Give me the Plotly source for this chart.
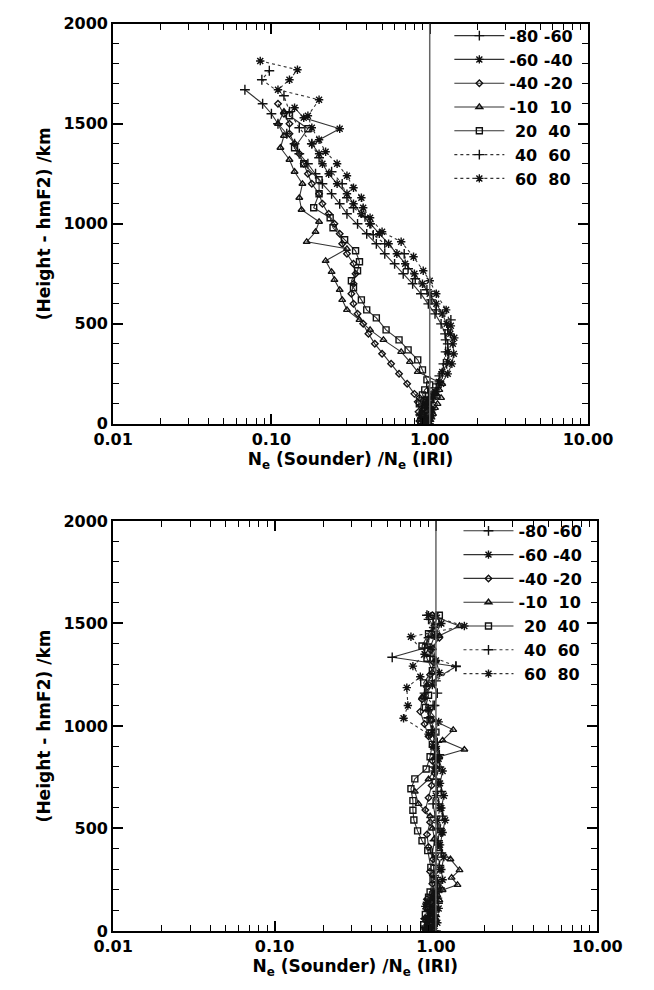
import plotly.graph_objects as go

# ---------------- data ----------------
series_names = ["-80 -60", "-60 -40", "-40 -20", "-10\u00a0\u00a010", "\u00a020\u00a0\u00a040", "\u00a040\u00a0\u00a060", "\u00a060\u00a0\u00a080"]

# Top panel
top_h_m80 = [0, 15, 30, 45, 60, 75, 90, 110, 130, 150, 200, 250, 300, 350, 400, 450, 500, 550, 600, 650, 700, 750, 800, 850, 900, 950, 1000, 1050, 1100, 1150, 1200, 1250, 1300, 1350, 1400, 1450, 1500, 1550, 1600, 1670]
top_v_m80 = [0.95, 0.9, 0.97, 0.88, 0.93, 1.0, 0.9, 0.98, 0.94, 1.05, 1.12, 1.2, 1.28, 1.32, 1.3, 1.25, 1.18, 1.08, 0.98, 0.88, 0.78, 0.68, 0.6, 0.52, 0.46, 0.4, 0.35, 0.3, 0.27, 0.24, 0.21, 0.19, 0.17, 0.15, 0.14, 0.125, 0.11, 0.1, 0.088, 0.068]

top_h_m60 = [0, 12, 25, 40, 55, 70, 85, 100, 120, 140, 160, 200, 250, 300, 350, 400, 450, 500, 550, 600, 650, 700, 750, 800, 850, 900, 950, 1000, 1050, 1100, 1150, 1200, 1250, 1300, 1350, 1400, 1475, 1530, 1580]
top_v_m60 = [0.98, 0.92, 1.02, 0.87, 0.95, 1.04, 0.9, 1.0, 0.93, 1.04, 1.1, 1.18, 1.3, 1.38, 1.42, 1.4, 1.35, 1.28, 1.2, 1.1, 1.0, 0.9, 0.8, 0.7, 0.62, 0.55, 0.48, 0.42, 0.37, 0.33, 0.3, 0.26, 0.23, 0.21, 0.2, 0.18, 0.27, 0.16, 0.14]

top_h_m40 = [0, 15, 30, 45, 60, 75, 90, 110, 130, 150, 200, 250, 300, 350, 400, 450, 500, 550, 600, 650, 700, 750, 800, 850, 900, 950, 1000, 1050, 1100, 1150, 1200, 1250, 1300, 1350, 1400, 1450, 1500, 1550, 1600]
top_v_m40 = [0.93, 0.86, 0.95, 0.9, 0.85, 0.92, 0.88, 0.84, 0.86, 0.8, 0.72, 0.64, 0.57, 0.5, 0.45, 0.41, 0.38, 0.35, 0.33, 0.32, 0.33, 0.34, 0.33, 0.3, 0.28, 0.27, 0.25, 0.23, 0.21, 0.2, 0.18, 0.17, 0.16, 0.15, 0.14, 0.13, 0.13, 0.12, 0.11]

top_h_m10 = [0, 10, 20, 35, 50, 65, 80, 100, 115, 130, 150, 170, 200, 260, 310, 360, 420, 470, 520, 570, 620, 670, 720, 760, 815, 875, 910, 960, 1010, 1070, 1130, 1200, 1260, 1320, 1380, 1440, 1500, 1560]
top_v_m10 = [0.96, 0.88, 1.0, 0.92, 1.05, 0.95, 1.08, 1.12, 1.02, 1.18, 1.1, 1.15, 1.2, 0.84, 0.75, 0.66, 0.51, 0.42, 0.36, 0.3, 0.28, 0.27, 0.25, 0.24, 0.22, 0.3, 0.167, 0.19, 0.2, 0.155, 0.15, 0.157, 0.14, 0.13, 0.114, 0.12, 0.11, 0.12]

top_h_p20 = [0, 15, 30, 45, 60, 80, 100, 120, 145, 170, 195, 220, 270, 320, 370, 420, 470, 530, 570, 620, 680, 715, 765, 810, 865, 920, 980, 1030, 1080, 1150, 1220, 1300, 1380, 1475, 1540]
top_v_p20 = [0.94, 0.88, 0.97, 0.9, 1.0, 0.93, 0.86, 0.95, 0.9, 0.93, 1.0, 0.96, 0.9, 0.84, 0.73, 0.64, 0.53, 0.46, 0.4, 0.37, 0.33, 0.32, 0.35, 0.36, 0.34, 0.29, 0.245, 0.235, 0.185, 0.2, 0.2, 0.16, 0.14, 0.17, 0.13]

top_h_p40 = [0, 15, 30, 45, 60, 80, 100, 130, 155, 180, 240, 300, 360, 420, 470, 520, 570, 620, 670, 725, 775, 850, 900, 945, 1000, 1035, 1080, 1130, 1200, 1260, 1330, 1400, 1480, 1560, 1640, 1720, 1765]
top_v_p40 = [0.97, 0.91, 1.0, 0.87, 0.93, 1.02, 0.95, 1.05, 0.98, 1.1, 1.15, 1.22, 1.26, 1.26, 1.3, 1.36, 1.1, 1.02, 0.96, 0.81, 0.73, 0.69, 0.52, 0.44, 0.42, 0.39, 0.33, 0.3, 0.28, 0.24, 0.2, 0.18, 0.15, 0.13, 0.12, 0.087, 0.097]

top_h_p60 = [0, 12, 25, 40, 55, 70, 90, 110, 135, 160, 210, 260, 310, 360, 430, 490, 570, 650, 715, 765, 835, 910, 960, 1030, 1080, 1130, 1180, 1240, 1300, 1360, 1420, 1480, 1540, 1620, 1670, 1720, 1770, 1814]
top_v_p60 = [1.0, 0.92, 0.96, 1.03, 0.89, 1.02, 0.94, 0.97, 1.06, 1.08, 1.14, 1.2, 1.3, 1.3, 1.43, 1.36, 1.27, 1.1, 1.0, 0.91, 0.79, 0.66, 0.5, 0.42, 0.38, 0.37, 0.33, 0.3, 0.26, 0.22, 0.2, 0.18, 0.17, 0.2, 0.11, 0.13, 0.146, 0.085]

# Bottom panel
bot_h_m80 = [0, 15, 30, 45, 60, 80, 100, 120, 145, 170, 220, 270, 320, 380, 440, 500, 560, 620, 680, 740, 800, 860, 920, 980, 1040, 1100, 1160, 1220, 1290, 1335, 1380, 1430, 1480, 1540]
bot_v_m80 = [0.95, 0.88, 0.92, 0.97, 0.86, 0.94, 0.9, 0.98, 0.92, 0.98, 1.02, 0.97, 1.0, 0.95, 0.98, 1.03, 0.99, 0.96, 1.02, 1.0, 0.97, 1.05, 1.0, 0.94, 0.9, 0.98, 1.02, 0.95, 1.33, 0.536, 0.85, 0.9, 0.97, 0.88]

bot_h_m60 = [0, 12, 25, 40, 55, 70, 90, 110, 130, 150, 200, 250, 300, 360, 420, 480, 540, 600, 660, 720, 780, 840, 900, 960, 1020, 1080, 1140, 1200, 1260, 1320, 1380, 1440, 1500, 1540]
bot_v_m60 = [0.98, 0.9, 0.93, 1.02, 0.88, 1.0, 0.95, 1.04, 0.92, 0.97, 1.05, 1.1, 1.08, 1.12, 1.06, 1.1, 1.14, 1.08, 1.12, 1.06, 1.1, 1.04, 1.0, 0.97, 1.04, 0.9, 0.85, 0.95, 1.05, 1.0, 0.92, 0.98, 1.08, 1.0]

bot_h_m40 = [0, 15, 30, 45, 60, 80, 100, 130, 155, 180, 230, 290, 350, 410, 470, 530, 590, 650, 710, 770, 830, 890, 950, 1010, 1070, 1130, 1190, 1250, 1310, 1370, 1430, 1490, 1540]
bot_v_m40 = [0.92, 0.87, 0.96, 0.9, 0.85, 0.93, 0.9, 0.94, 0.88, 1.0, 0.95, 0.92, 0.96, 0.9, 0.88, 0.92, 0.86, 0.9, 0.94, 0.98, 0.95, 1.0, 0.9, 0.85, 0.8, 0.82, 0.88, 0.92, 0.97, 0.93, 1.05, 0.98, 0.95]

bot_h_m10 = [0, 12, 25, 40, 55, 75, 100, 125, 150, 175, 200, 225, 260, 297, 350, 400, 450, 500, 560, 620, 680, 740, 800, 850, 885, 930, 981, 1030, 1080, 1140, 1200, 1260, 1320, 1380, 1440, 1488, 1530]
bot_v_m10 = [0.9, 0.86, 0.95, 0.89, 1.0, 0.93, 1.0, 0.96, 1.05, 1.02, 1.1, 1.36, 1.25, 1.4, 1.23, 1.05, 0.98, 0.95, 0.92, 0.78, 0.74, 0.9, 1.0, 1.05, 1.5, 1.1, 1.28, 0.95, 0.9, 0.82, 0.88, 0.95, 1.0, 0.96, 1.05, 1.4, 1.0]

bot_h_p20 = [0, 15, 30, 45, 60, 80, 100, 120, 140, 165, 190, 250, 310, 392, 440, 488, 541, 589, 636, 694, 742, 790, 850, 910, 970, 1030, 1090, 1150, 1210, 1270, 1330, 1390, 1450, 1510, 1540]
bot_v_p20 = [0.95, 0.89, 0.84, 0.93, 0.9, 0.86, 0.93, 0.88, 0.95, 0.9, 0.92, 0.96, 0.93, 0.89, 0.82, 0.77, 0.73, 0.72, 0.72, 0.7, 0.74, 0.87, 0.92, 0.95, 1.0, 0.92, 0.86, 0.9, 0.84, 0.95, 0.88, 0.82, 0.9, 1.0, 1.05]

bot_h_p40 = [0, 12, 25, 40, 55, 75, 95, 115, 135, 160, 210, 260, 320, 380, 440, 500, 560, 620, 680, 740, 800, 860, 920, 980, 1040, 1100, 1160, 1220, 1292, 1340, 1400, 1460, 1520]
bot_v_p40 = [1.0, 0.93, 0.87, 0.95, 0.9, 0.98, 0.92, 0.98, 1.03, 1.02, 1.06, 1.0, 1.05, 1.08, 1.03, 1.06, 1.1, 1.04, 1.08, 1.0, 1.05, 0.98, 1.02, 0.95, 0.9, 0.96, 0.85, 1.0, 1.33, 0.92, 0.88, 0.95, 0.9]

bot_h_p60 = [0, 10, 20, 30, 45, 60, 80, 100, 120, 140, 165, 190, 240, 300, 360, 420, 480, 540, 600, 660, 720, 780, 840, 900, 960, 1038, 1100, 1187, 1240, 1292, 1350, 1435, 1488, 1540]
bot_v_p60 = [0.93, 0.85, 0.91, 0.97, 0.88, 0.9, 0.96, 0.95, 0.86, 0.88, 0.94, 0.96, 1.02, 1.06, 1.0, 1.04, 1.08, 1.02, 1.06, 1.0, 1.04, 0.98, 1.02, 0.96, 0.9, 0.63, 0.67, 0.66, 0.8, 0.72, 0.85, 0.70, 1.5, 0.9]

x_tickvals = [0.01, 0.1, 1, 10]
x_ticktext = ["0.01", "0.10", "1.00", "10.00"]
y_tickvals = [0, 500, 1000, 1500, 2000]

top_data = [(top_v_m80, top_h_m80), (top_v_m60, top_h_m60), (top_v_m40, top_h_m40), (top_v_m10, top_h_m10),
            (top_v_p20, top_h_p20), (top_v_p40, top_h_p40), (top_v_p60, top_h_p60)]
bot_data = [(bot_v_m80, bot_h_m80), (bot_v_m60, bot_h_m60), (bot_v_m40, bot_h_m40), (bot_v_m10, bot_h_m10),
            (bot_v_p20, bot_h_p20), (bot_v_p40, bot_h_p40), (bot_v_p60, bot_h_p60)]

# ---------------- styles ----------------
symbols = ["cross-thin-open", "asterisk-open", "diamond-open", "triangle-up-open", "square-open", "cross-thin-open", "asterisk-open"]
sizes = [7, 7, 5, 6, 6, 7, 7]
dashes = ["solid", "solid", "solid", "solid", "solid", "dot", "dot"]
FONT = "DejaVu Sans, Verdana, sans-serif"

fig = go.Figure()
for panel, (data, xa, ya, lg) in enumerate([(top_data, "x", "y", "legend"), (bot_data, "x2", "y2", "legend2")]):
    for i, (v, h) in enumerate(data):
        fig.add_trace(go.Scatter(
            x=v, y=h, xaxis=xa, yaxis=ya, legend=lg, name=series_names[i],
            mode="lines+markers",
            line=dict(color="#333333", width=1.1, dash=dashes[i]),
            marker=dict(symbol=symbols[i], size=sizes[i], color="#111111",
                        line=dict(color="#111111", width=1.4)),
        ))

def xaxis_cfg(domain):
    return dict(
        type="log", range=[-2, 1], domain=domain,
        tickmode="array", tickvals=x_tickvals, ticktext=x_ticktext,
        ticks="inside", ticklen=10, tickwidth=1.5, tickcolor="black",
        mirror="allticks", showline=True, linewidth=2, linecolor="black",
        showgrid=False, zeroline=False,
        minor=dict(ticks="inside", ticklen=6, tickwidth=1.2, tickcolor="black",
                   tickvals=[m * d for d in (0.01, 0.1, 1) for m in range(2, 10)], showgrid=False),
        tickfont=dict(family=FONT, size=16, color="black", weight="bold"),
        title=dict(text="N<sub>e</sub> (Sounder) /N<sub>e</sub> (IRI)", standoff=2,
                   font=dict(family=FONT, size=17, color="black", weight="bold")),
    )

def yaxis_cfg(domain, anchor):
    return dict(
        range=[0, 2000], domain=domain, anchor=anchor,
        tickmode="array", tickvals=y_tickvals,
        ticks="inside", ticklen=10, tickwidth=1.5, tickcolor="black",
        mirror="allticks", showline=True, linewidth=2, linecolor="black",
        showgrid=False, zeroline=False,
        minor=dict(ticks="inside", ticklen=6, tickwidth=1.2, tickcolor="black", dtick=100, showgrid=False),
        tickfont=dict(family=FONT, size=16, color="black", weight="bold"),
        title=dict(text="(Height - hmF2) /km", standoff=8,
                   font=dict(family=FONT, size=17, color="black", weight="bold")),
    )

legend_common = dict(
    bgcolor="rgba(0,0,0,0)", borderwidth=0,
    font=dict(family=FONT, size=16, color="black", weight="bold"),
    tracegroupgap=0, itemwidth=50, xanchor="left", yanchor="top",
)

fig.update_layout(
    width=654, height=990,
    margin=dict(l=0, r=0, t=0, b=0),
    paper_bgcolor="white", plot_bgcolor="white",
    showlegend=True,
    xaxis=dict(xaxis_cfg([100 / 654, 610 / 654]), anchor="y"),
    yaxis=yaxis_cfg([1 - 423 / 990, 1 - 15 / 990], "x"),
    xaxis2=dict(xaxis_cfg([100 / 654, 620 / 654]), anchor="y2"),
    yaxis2=yaxis_cfg([1 - 940 / 990, 1 - 522 / 990], "x2"),
    legend=dict(legend_common, x=0.705, y=0.99),
    legend2=dict(legend_common, x=0.72, y=0.48),
    shapes=[
        dict(type="line", xref="x", yref="y domain", x0=1, x1=1, y0=0, y1=1,
             line=dict(color="#666666", width=1.5)),
        dict(type="line", xref="x2", yref="y2 domain", x0=1, x1=1, y0=0, y1=1,
             line=dict(color="#666666", width=1.5)),
    ],
)

fig.write_html("out.html")
